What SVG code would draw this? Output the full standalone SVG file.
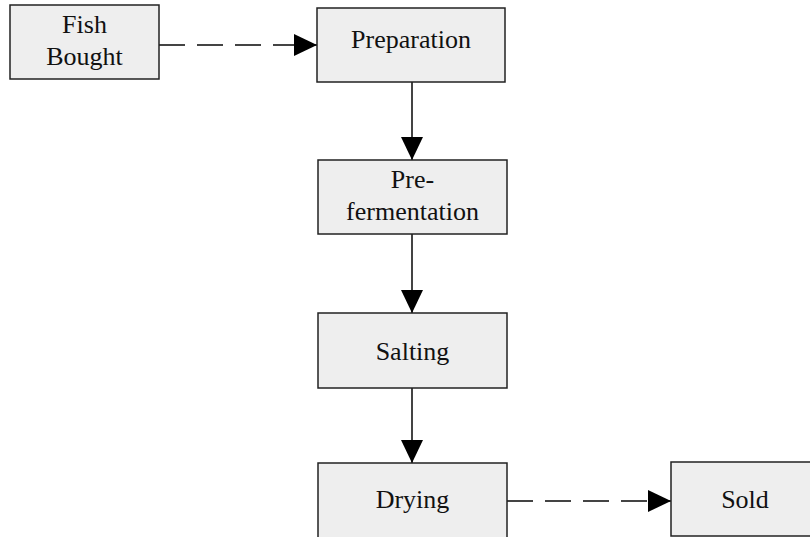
<svg xmlns="http://www.w3.org/2000/svg" width="810" height="537" viewBox="0 0 810 537">
<style>
.box{fill:#eeeeee;stroke:#222222;stroke-width:1.5}
.lbl{font-family:"Liberation Serif","Times New Roman",serif;font-size:26px;fill:#111111;text-anchor:middle}
.conn{stroke:#444444;stroke-width:2;fill:none}
.dash{stroke-dasharray:26 12}
</style>
<defs>
<marker id="arr" markerUnits="userSpaceOnUse" markerWidth="23" markerHeight="22" refX="23" refY="11" orient="auto" viewBox="0 0 23 22">
<path d="M0,0 L23,11 L0,22 z" fill="#000000"/>
</marker>
</defs>
<rect width="810" height="537" fill="#ffffff"/>
<g id="connectors">
<line class="conn dash" x1="159" y1="45" x2="317" y2="45" marker-end="url(#arr)"/>
<line class="conn" x1="412" y1="82" x2="412" y2="160" marker-end="url(#arr)"/>
<line class="conn" x1="412" y1="234" x2="412" y2="313" marker-end="url(#arr)"/>
<line class="conn" x1="412" y1="388" x2="412" y2="463" marker-end="url(#arr)"/>
<line class="conn dash" x1="507" y1="501" x2="671" y2="501" marker-end="url(#arr)"/>
</g>
<g id="fish-bought">
<rect class="box" x="10" y="5" width="149" height="74"/>
<text class="lbl" x="84.5" y="33">Fish</text>
<text class="lbl" x="84.5" y="65">Bought</text>
</g>
<g id="preparation">
<rect class="box" x="317" y="8" width="188" height="74"/>
<text class="lbl" x="411" y="48">Preparation</text>
</g>
<g id="pre-fermentation">
<rect class="box" x="318" y="160" width="189" height="74"/>
<text class="lbl" x="412.5" y="188">Pre-</text>
<text class="lbl" x="412.5" y="220">fermentation</text>
</g>
<g id="salting">
<rect class="box" x="318" y="313" width="189" height="75"/>
<text class="lbl" x="412.5" y="360">Salting</text>
</g>
<g id="drying">
<rect class="box" x="318" y="463" width="189" height="80"/>
<text class="lbl" x="412.5" y="508">Drying</text>
</g>
<g id="sold">
<rect class="box" x="671" y="462" width="150" height="74"/>
<text class="lbl" x="745" y="508">Sold</text>
</g>
</svg>
